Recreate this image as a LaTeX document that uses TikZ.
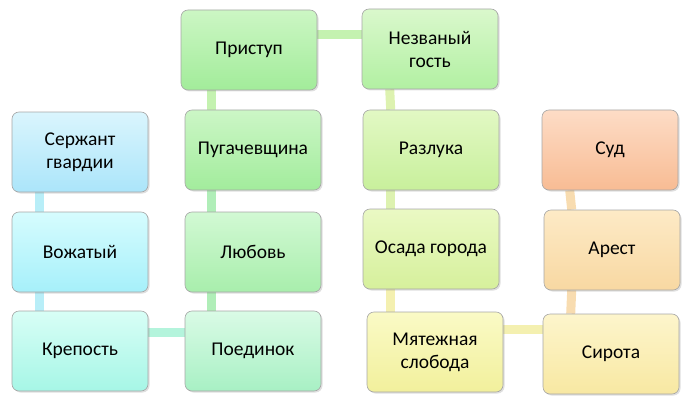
\documentclass[tikz,border=0pt]{standalone}
\usepackage{fontspec}
\setmainfont{Carlito}
\usetikzlibrary{shadows,backgrounds}
\begin{document}
\begin{tikzpicture}[x=1pt,y=-1pt,
 box/.style={draw=gray!70,line width=0.6pt,rounded corners=7pt,minimum width=136pt,minimum height=80pt,
  align=center,font=\fontsize{19.5}{23}\selectfont,drop shadow={opacity=0.25,shadow xshift=1.5pt,shadow yshift=-1.5pt}},
 con/.style={line width=9pt}]
\useasboundingbox (0,0) rectangle (695,409);
\def\bx#1#2#3#4#5{\definecolor{t#1}{HTML}{#4}\definecolor{b#1}{HTML}{#5}%
 \node[box,top color=t#1,bottom color=b#1] (#1) at (#2) {#3};}
\definecolor{c1}{HTML}{B8EEF8}\definecolor{c2}{HTML}{B4F4DC}\definecolor{c3}{HTML}{B0EEB8}
\definecolor{c4}{HTML}{C4F2B0}\definecolor{c5}{HTML}{DDF2B0}\definecolor{c6}{HTML}{F4F0B0}\definecolor{c7}{HTML}{F8DCB0}
\bx{serzh}{80,152}{Сержант\\гвардии}{DAF5FD}{ABE5FA}
\bx{vozh}{80,252}{Вожатый}{D6FCFE}{A6F0FA}
\bx{krep}{80,351}{Крепость}{D8FEF6}{A6F6E6}
\bx{poed}{253,351}{Поединок}{DAFBE6}{A8F0C4}
\bx{lyub}{253,252}{Любовь}{D2F9D4}{A8EEAC}
\bx{pug}{253,150}{Пугачевщина}{CCF6C6}{A2EC9C}
\bx{prist}{249,50}{Приступ}{CCF6C4}{A2EC9A}
\bx{nezv}{430,49}{Незваный\\гость}{DAF8CC}{B2F0A2}
\bx{razl}{431,150}{Разлука}{E2F8C4}{C8F09C}
\bx{osada}{431,249}{Осада города}{EAF9C4}{D6F09C}
\bx{myat}{435,352}{Мятежная\\слобода}{FAFAC6}{F2F09C}
\bx{sirota}{611,354}{Сирота}{FDF5CC}{F8E8A2}
\bx{arest}{612,250}{Арест}{FDEAC6}{F8D8A2}
\bx{sud}{610,150}{Суд}{FDDCC6}{F8BC94}
\begin{scope}[on background layer]
\draw[con,c1] ([xshift=28pt]serzh.south west) -- ([xshift=28pt]vozh.north west);
\draw[con,c1] ([xshift=28pt]vozh.south west) -- ([xshift=28pt]krep.north west);
\draw[con,c2] ([yshift=-22pt]krep.north east) -- ([yshift=-22pt]poed.north west);
\draw[con,c3] ([xshift=27pt]poed.north west) -- ([xshift=27pt]lyub.south west);
\draw[con,c3] ([xshift=27pt]lyub.north west) -- ([xshift=27pt]pug.south west);
\draw[con,c4] ([xshift=27pt]pug.north west) -- ([xshift=27pt]pug.north west |- prist.south);
\draw[con,c4] ([yshift=-25pt]prist.north east) -- ([yshift=-25pt]prist.north east -| nezv.west);
\draw[con,c5] ([xshift=28pt]nezv.south west) -- ([xshift=28pt]razl.north west);
\draw[con,c5] ([xshift=28pt]razl.south west) -- ([xshift=28pt]osada.north west);
\draw[con,c6] ([xshift=28pt]osada.south west) -- ([xshift=28pt]osada.south west |- myat.north);
\draw[con,c6] ([yshift=-18pt]myat.north east) -- ([yshift=-18pt]myat.north east -| sirota.west);
\draw[con,c7] ([xshift=28pt]sirota.north west) -- ([xshift=28pt]arest.south west);
\draw[con,c7] ([xshift=28pt]arest.north west) -- ([xshift=28pt]sud.south west);
\end{scope}
\end{tikzpicture}
\end{document}
